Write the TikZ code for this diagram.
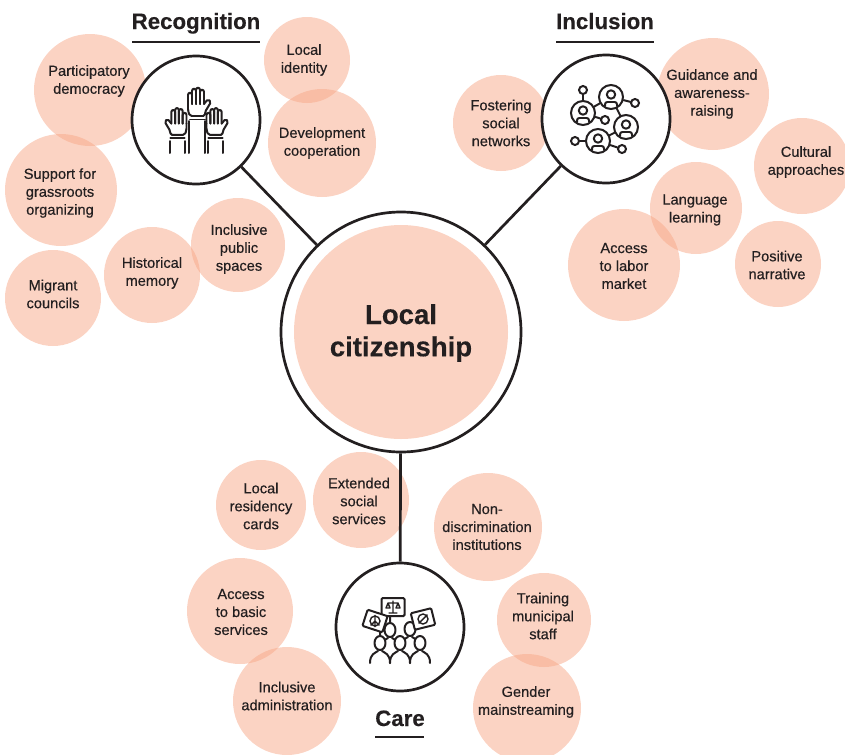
\documentclass[tikz,border=0pt]{standalone}
\usepackage{fontspec}
\setmainfont[FakeBold=0.4]{Liberation Sans}
\newfontfamily\titlefont[FakeBold=0.3]{Liberation Sans}
\usepackage{xcolor}
\definecolor{bubblecol}{HTML}{F7A787}
\definecolor{inkcol}{HTML}{231F20}
\tikzset{
  bubble/.style={circle,draw=none,fill=bubblecol,fill opacity=.5,inner sep=0,minimum size=#1*0.06cm},
  bubbletext/.style={inner sep=0,align=center,text=inkcol,font=\fontsize{12.5}{15.3}\selectfont},
  hub/.style={circle,draw=inkcol,fill=white,line width=2.3pt,inner sep=0,minimum size=128*0.03cm},
  link/.style={draw=inkcol,line width=2.3pt},
  headline/.style={text=inkcol,font=\titlefont\bfseries\fontsize{19}{22}\selectfont,inner sep=0,anchor=base},
  headrule/.style={draw=inkcol,line width=2.4pt},
  icon/.style={draw=inkcol,line width=1.7pt,line cap=round,line join=round},
  thin icon/.style={icon,line width=1.2pt},
  dot/.style={circle,draw=inkcol,line width=1.7pt,fill=white,inner sep=0,minimum size=#1*0.06cm},
  sign/.style={draw=inkcol,fill=white,line width=1.7pt,inner sep=0,rounded corners=1pt},
  pics/raisedhand/.style={code={
    \foreach \a/\t in {-10/-20,-6/-24,-2/-25,2/-23}
      \draw[icon] (\a,-11) -- (\a,\t) .. controls (\a,\t-3) and (\a+4,\t-3) .. (\a+4,\t) -- (\a+4,-11);
    \draw[icon,rounded corners=1.5pt] (-10,-11) -- (-10,-4) -- (-8,1) -- (7,1) -- (7,-3) -- (13,-13) -- (10,-16) -- (6,-11);
    \draw[icon] (-8,4.5) -- (7,4.5);
  }},
  pics/person/.style={code={
    \draw[icon,rounded corners=2pt,fill=white] (-6,9) -- (-6,5) -- (6,5) -- (6,9);
    \draw[icon] (0,-2.5) circle[radius=4.2];
  }},
  pics/marcher/.style={code={
    \draw[icon] (-10,20) .. controls (-10,11) and (-5,10) .. (-2,8) (10,20) .. controls (10,11) and (5,10) .. (2,8);
    \draw[icon,fill=white] (0,0) ellipse[x radius=5.5,y radius=7];
  }},
}
\begin{document}
\begin{tikzpicture}[x=0.03cm,y=-0.03cm]
  \useasboundingbox (0,0) rectangle (845,754);
  % name / bubble centre / radius / text centre / text
  \foreach \nm/\cx/\cy/\rad/\tx/\ty/\txt in {
    participatory/90/90/56/89/81/{Participatory\\democracy},
    identity/307/60/43/304/60/{Local\\identity},
    development/322/143/54/322/143/{Development\\cooperation},
    grassroots/61/190/56/60/193/{Support for\\grassroots\\organizing},
    councils/53/298/48/53/294/{Migrant\\councils},
    memory/152/275/48/152/273/{Historical\\memory},
    spaces/238/245/47/239/249/{Inclusive\\public\\spaces},
    networks/501/123/48/501/123/{Fostering\\social\\networks},
    guidance/713/94/56/712/94/{Guidance and\\awareness-\\raising},
    cultural/802/166/48/806/162/{Cultural\\approaches},
    language/696/208/46/695/210/{Language\\learning},
    labor/624/265/56/624/266/{Access\\to labor\\market},
    narrative/778/264/43/777/265/{Positive\\narrative},
    residency/261/505/45/261/506/{Local\\residency\\cards},
    extended/361/500/48/359/501/{Extended\\social\\services},
    nondiscr/488/527/54/487/527/{Non-\\discrimination\\institutions},
    basic/240/611/53/241/612/{Access\\to basic\\services},
    training/544/620/47/543/616/{Training\\municipal\\staff},
    admin/287/701/54/287/696/{Inclusive\\administration},
    gender/527/708/54/526/702/{Gender\\mainstreaming}}
  {
    \node[bubble=\rad] (\nm) at (\cx,\cy) {};
    \node[bubbletext] (\nm text) at (\tx,\ty) {\txt};
  }
  % hubs
  \node[hub] (recognition) at (196,120) {};
  \node[hub] (inclusion) at (606,119) {};
  \node[hub] (care) at (400,627) {};
  \node[hub,minimum size=240*0.03cm] (ring) at (401,332) {};
  \draw[link] (recognition) -- (ring);
  \draw[link] (inclusion) -- (ring);
  \draw[link] (care) -- (ring);
  \node[circle,fill=bubblecol!50!white,inner sep=0,minimum size=214*0.03cm] (citizenship) at (ring) {};
  \node[inner sep=0,align=center,text=inkcol,font=\titlefont\bfseries\fontsize{23.5}{27.5}\selectfont] (citizenshiptext) at (401,333) {Local\\citizenship};
  % titles
  \node[headline] (rectitle) at (196,29) {Recognition};
  \node[headline] (inctitle) at (605,29) {Inclusion};
  \node[headline] (caretitle) at (400,726) {Care};
  \coordinate (recA) at (132,42); \coordinate (recB) at (260,42);
  \coordinate (incA) at (556,42); \coordinate (incB) at (654,42);
  \coordinate (carA) at (375,737); \coordinate (carB) at (424,737);
  \draw[headrule] (recA) -- (recB);
  \draw[headrule] (incA) -- (incB);
  \draw[headrule] (carA) -- (carB);
  % hands
  \pic at (198,115) {raisedhand};
  \pic[xscale=-.95,yscale=.95] at (177,134) {raisedhand};
  \pic[xscale=.95,yscale=.95] at (216,134) {raisedhand};
  \draw[icon] (170,141) -- (170,153) (185,141) -- (185,153);
  \draw[icon] (208,141) -- (208,153) (223,141) -- (223,153);
  \draw[icon] (189,121) -- (189,153) (205,121) -- (205,153);
  % network
  \node[dot=12] (netA) at (583,113) {};
  \node[dot=12] (netB) at (611,97) {};
  \node[dot=12] (netC) at (626,127) {};
  \node[dot=12] (netD) at (598,141) {};
  \node[dot=4] (tipA) at (583,90) {};
  \node[dot=4] (tipB) at (635,103) {};
  \node[dot=4] (tipC) at (605,120) {};
  \node[dot=4] (tipD) at (575,141) {};
  \node[dot=4] (tipE) at (622,149) {};
  \draw[icon] (netA) -- (tipA);
  \draw[icon] (netA) -- (netB);
  \draw[icon] (netA) -- (tipC);
  \draw[icon] (netB) -- (tipB);
  \draw[icon] (netB) -- (netC);
  \draw[icon] (netC) -- (netD);
  \draw[icon] (netD) -- (tipD);
  \draw[icon] (netD) -- (tipE);
  \foreach \px/\py in {583/113,611/97,626/127,598/141}
    \pic at (\px,\py) {person};
  % protest
  \draw[icon] (390,616) -- (390,623) (416,625) -- (414,632) (380,630) -- (380,636);
  \pic at (390,630) {marcher};
  \pic at (410,629) {marcher};
  \pic at (380,643) {marcher};
  \pic at (420,643) {marcher};
  \pic at (400,643) {marcher};
  \node[sign,minimum width=23*0.03cm,minimum height=18*0.03cm] (signA) at (393,607) {};
  \node[sign,minimum width=21*0.03cm,minimum height=17*0.03cm,rotate=-18] (signB) at (375,621) {};
  \node[sign,minimum width=21*0.03cm,minimum height=17*0.03cm,rotate=14] (signC) at (423,619) {};
  \draw[thin icon] (393,601) -- (393,613) (388,603) -- (398,603) (389,613) -- (397,613) (388,603) -- (386,608) -- (390,608) -- cycle (398,603) -- (396,608) -- (400,608) -- cycle;
  \node[dot=5,line width=1.2pt] (peace) at (375,621) {};
  \node[dot=5,line width=1.2pt] (banned) at (423,619) {};
  \draw[thin icon] (peace.north) -- (peace.south) (peace.center) -- (peace.south west) (peace.center) -- (peace.south east);
  \draw[thin icon] (banned.south west) -- (banned.north east);
\end{tikzpicture}
\end{document}
